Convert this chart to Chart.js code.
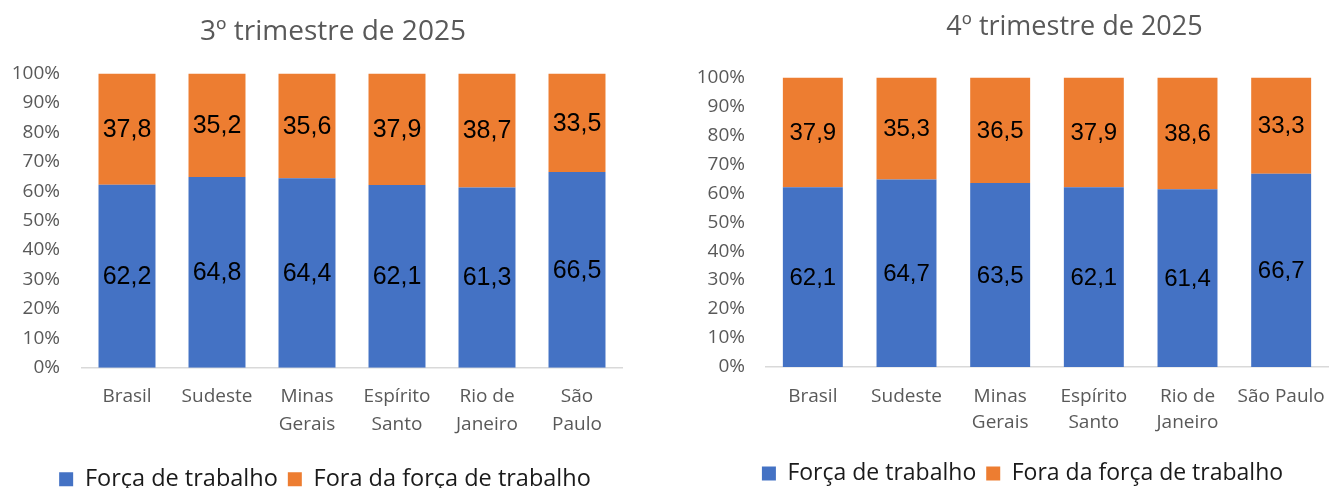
<!DOCTYPE html>
<html><head><meta charset="utf-8">
<script src="https://cdn.jsdelivr.net/npm/chart.js@4.4.1/dist/chart.umd.min.js"></script>
<style>
html,body{margin:0;padding:0;background:#fff;}
#wrap{position:relative;width:1330px;height:488px;}
.c{position:absolute;top:0;height:488px;}
</style></head><body>
<div id="wrap">
<div class="c" style="left:0;width:665px"><canvas id="c1"></canvas></div>
<div class="c" style="left:665px;width:665px"><canvas id="c2"></canvas></div>
</div>
<script>
const categories3 = [['Brasil'],['Sudeste'],['Minas','Gerais'],['Espírito','Santo'],['Rio de','Janeiro'],['São','Paulo']];
const categories4 = [['Brasil'],['Sudeste'],['Minas','Gerais'],['Espírito','Santo'],['Rio de','Janeiro'],['São Paulo']];
const forca3 = [62.2, 64.8, 64.4, 62.1, 61.3, 66.5];
const fora3  = [37.8, 35.2, 35.6, 37.9, 38.7, 33.5];
const forca4 = [62.1, 64.7, 63.5, 62.1, 61.4, 66.7];
const fora4  = [37.9, 35.3, 36.5, 37.9, 38.6, 33.3];
const seriesNames = ['Força de trabalho','Fora da força de trabalho'];
const titles = ['3º trimestre de 2025','4º trimestre de 2025'];
const yTicks = [0,10,20,30,40,50,60,70,80,90,100];

const FONT = '"Open Sans", sans-serif';
const LFONT = '"Liberation Sans", Arial, sans-serif';
const GREY = '#595959';

const labelPlugin = {
  id:'segLabels',
  afterLayout(chart, args, opts){
    if (chart.titleBlock){ chart.titleBlock.left += opts.titleShift; chart.titleBlock.right += opts.titleShift; }
    if (chart.legend){ chart.legend.left += opts.legendShift; chart.legend.right += opts.legendShift; }
  },
  afterDatasetsDraw(chart, args, opts){
    const ctx = chart.ctx;
    ctx.save();
    ctx.font = opts.size + 'px ' + LFONT;
    ctx.fillStyle = '#000';
    ctx.textAlign = 'center';
    ctx.textBaseline = 'middle';
    chart.data.datasets.forEach((ds,i)=>{
      const meta = chart.getDatasetMeta(i);
      meta.data.forEach((bar,j)=>{
        const v = ds.data[j];
        const y = (bar.y + bar.base)/2;
        ctx.fillText(v.toFixed(1).replace('.',','), bar.x, y + 1);
      });
    });
    ctx.restore();
  }
};

function make(id, cats, a, b, title, o){
  return new Chart(document.getElementById(id), {
    type:'bar',
    data:{labels:cats, datasets:[
      {label:seriesNames[0], data:a, backgroundColor:'#4472C4', barPercentage:o.bp, categoryPercentage:1},
      {label:seriesNames[1], data:b, backgroundColor:'#ED7D31', barPercentage:o.bp, categoryPercentage:1}
    ]},
    options:{
      responsive:true, maintainAspectRatio:false, animation:false,
      layout:{padding:{left:0, right:o.pr, top:0, bottom:o.pb}},
      plugins:{
        title:{display:true, text:title, color:GREY, font:{family:FONT, size:o.ts, weight:'normal', lineHeight:1.2}, padding:{top:o.tt, bottom:o.tb}},
        legend:{position:'bottom', labels:{color:'#1a1a1a', font:{family:FONT, size:o.lfs}, boxWidth:14, boxHeight:14, padding:10}},
        tooltip:{enabled:false},
        segLabels:{size:o.ls, titleShift:o.tsh, legendShift:o.lsh}
      },
      scales:{
        x:{stacked:true, grid:{display:false, drawTicks:false}, border:{display:true, color:'#D9D9D9', width:1.5},
           ticks:{color:GREY, font:{family:FONT, size:19, lineHeight:o.xlh}, padding:o.xp, maxRotation:0, autoSkip:false},
           afterFit(s){ s.height += o.xadd; s.paddingLeft = 0; s.paddingRight = 0; }},
        y:{stacked:true, min:0, max:100, afterBuildTicks(s){s.ticks = yTicks.map(v=>({value:v}));},
           grid:{display:false, drawTicks:false}, border:{display:false},
           ticks:{color:GREY, font:{family:FONT, size:19}, padding:o.yp, callback:v=>v+'%'},
           afterFit(s){ s.width = o.yw; }}
      }
    },
    plugins:[labelPlugin]
  });
}
make('c1', categories3, forca3, fora3, titles[0], {bp:0.633, pr:43, pb:-13, ts:28, tt:15, tb:25, xlh:1.47, xp:15, xadd:4, yw:82, yp:22, ls:25, lfs:23.5, tsh:22, lsh:14});
make('c2', categories4, forca4, fora4, titles[1], {bp:0.64, pr:2, pb:-7, ts:27, tt:11, tb:34, xlh:1.37, xp:17, xadd:-1, yw:101, yp:21, ls:24, lfs:23, tsh:78, lsh:26});
</script>
</body></html>
